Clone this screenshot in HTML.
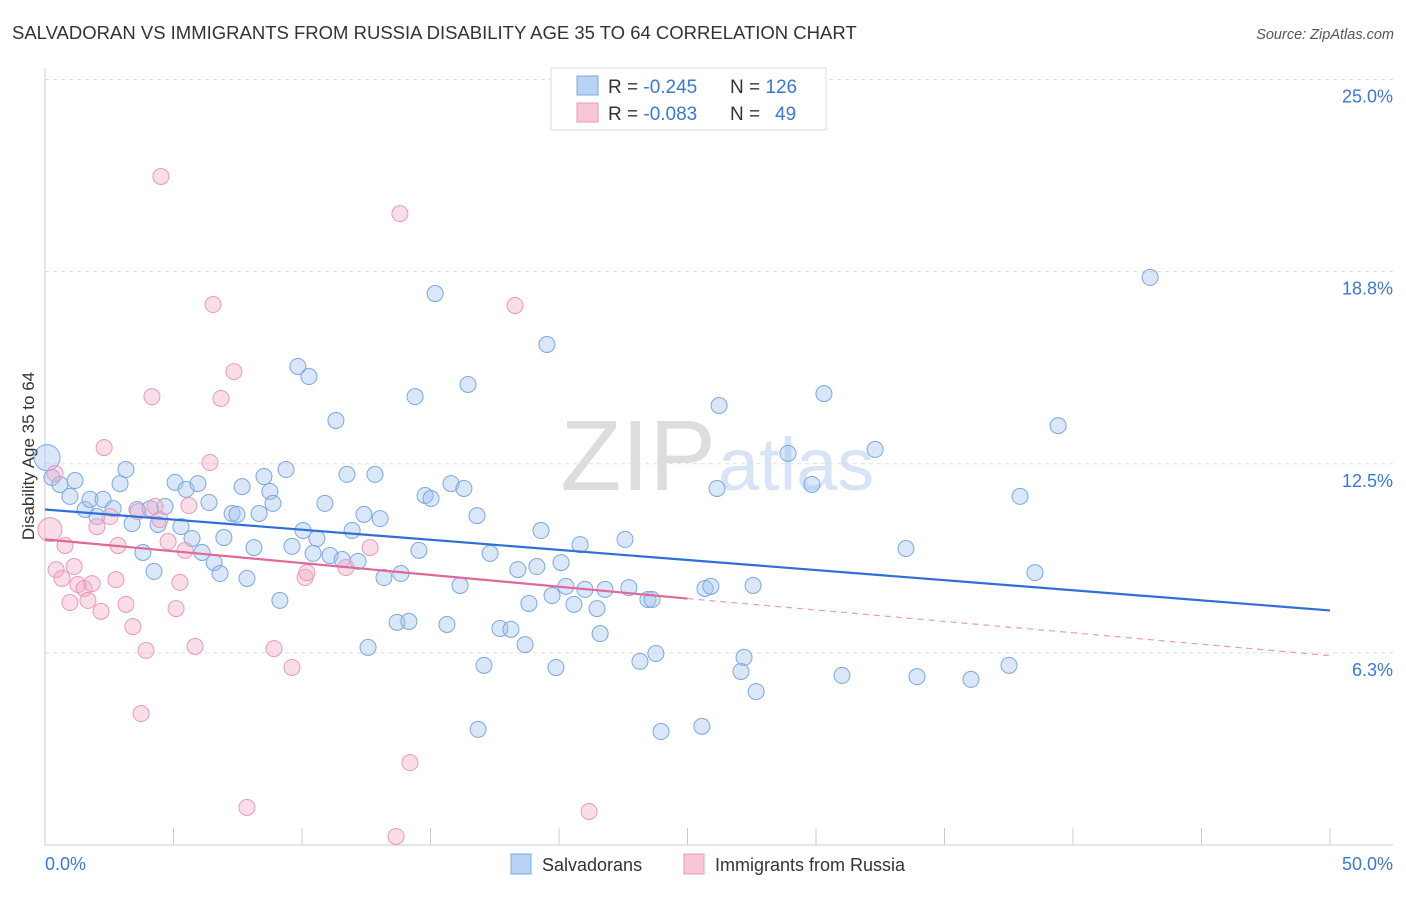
<!DOCTYPE html>
<html><head><meta charset="utf-8"><style>
body{margin:0;background:#fff;font-family:"Liberation Sans",sans-serif;}
svg text{font-family:"Liberation Sans",sans-serif;}
</style></head><body>
<svg id="chart" width="1406" height="892" viewBox="0 0 1406 892">
<text x="12" y="39" font-size="18.5" fill="#333">SALVADORAN VS IMMIGRANTS FROM RUSSIA DISABILITY AGE 35 TO 64 CORRELATION CHART</text>
<text x="1394" y="39" font-size="14.5" fill="#555" text-anchor="end" font-style="italic">Source: ZipAtlas.com</text>
<text x="716" y="490" font-size="100" fill="#ddd" text-anchor="end" font-family="Liberation Serif">ZIP</text>
<text x="718" y="490" font-size="74" fill="#d6e4f5">atlas</text>
<g id="grid"></g><g id="axes"></g><g id="pts"></g><g id="trends"></g>
<text transform="translate(34,456) rotate(-90)" font-size="17" fill="#333" text-anchor="middle">Disability Age 35 to 64</text>
<g>
<rect x="551" y="68" width="275" height="62" fill="#fff" stroke="#ddd"/>
<rect x="577" y="76" width="21" height="19" fill="#b8d3f5" stroke="#7aa8e0"/>
<rect x="577" y="103" width="21" height="19" fill="#f9c6d6" stroke="#e89ab8"/>
<text x="608" y="93" font-size="19" fill="#333">R = <tspan fill="#3a78d4">-0.245</tspan><tspan x="730">N = </tspan><tspan fill="#3a78d4">126</tspan></text>
<text x="608" y="120" font-size="19" fill="#333">R = <tspan fill="#3a78d4">-0.083</tspan><tspan x="730">N = </tspan><tspan fill="#3a78d4" x="775">49</tspan></text>
</g>
<g>
<rect x="511" y="854" width="20" height="20" fill="#b8d3f5" stroke="#7aa8e0"/>
<text x="542" y="871" font-size="18" fill="#333">Salvadorans</text>
<rect x="684" y="854" width="20" height="20" fill="#f9c6d6" stroke="#e89ab8"/>
<text x="715" y="871" font-size="18" fill="#333">Immigrants from Russia</text>
</g>
</svg>
<script>
const blueX=[0.08,0.27,0.58,1.17,0.97,1.56,1.75,2.02,2.26,2.65,2.92,3.15,3.39,3.58,3.81,4.09,4.24,4.40,4.67,5.06,5.29,5.49,5.72,5.95,6.11,6.38,6.58,6.81,6.96,7.28,7.47,7.67,7.86,8.13,8.33,8.52,8.75,8.87,9.14,9.38,9.61,9.84,10.04,10.27,10.43,10.58,10.89,11.09,11.32,11.56,11.75,11.95,12.18,12.41,12.57,12.84,13.04,13.19,13.70,13.85,14.16,14.40,14.55,14.79,15.02,15.18,15.64,15.80,16.15,16.30,16.46,16.81,17.08,16.85,17.32,17.70,18.13,18.40,18.68,18.83,19.14,19.30,19.53,19.73,19.88,20.08,20.27,20.58,20.82,21.01,21.48,21.60,21.79,22.57,22.72,23.15,23.46,23.62,23.77,23.97,25.56,25.68,25.91,26.15,26.23,27.08,27.20,27.55,27.67,28.91,29.84,30.31,31.01,32.30,33.50,33.93,36.03,37.51,37.94,38.52,39.42,43.00];
const blueY=[12.70,12.05,11.82,11.95,11.43,11.0,11.33,10.77,11.33,11.03,11.85,12.31,10.54,11.0,9.59,11.03,8.97,10.51,11.10,11.89,10.44,11.66,10.05,11.85,9.59,11.23,9.26,8.90,10.08,10.87,10.84,11.75,8.74,9.75,10.87,12.08,11.59,11.20,8.02,12.31,9.79,15.69,10.31,15.36,9.56,10.05,11.20,9.49,13.92,9.36,12.15,10.31,9.30,10.84,6.48,12.15,10.70,8.77,7.30,8.90,7.33,14.70,9.66,11.46,11.36,18.08,7.23,11.85,8.51,11.69,15.10,10.80,5.89,3.79,9.56,7.10,7.07,9.03,6.57,7.92,9.13,10.31,16.41,8.18,5.82,9.26,8.48,7.89,9.85,8.38,7.75,6.93,8.38,10.02,8.44,6.02,8.05,8.05,6.28,3.72,3.89,8.41,8.48,11.69,14.41,5.69,6.15,8.51,5.03,12.84,11.82,14.80,5.56,12.97,9.72,5.52,5.43,5.89,11.43,8.93,13.75,18.61];
const pinkX=[0.19,0.39,0.43,0.66,0.78,0.97,1.13,1.28,1.52,1.67,1.83,2.02,2.18,2.30,2.53,2.76,2.84,3.15,3.42,3.62,3.93,3.74,4.16,4.28,4.47,4.51,4.79,5.10,5.25,5.45,5.60,5.84,6.42,6.54,6.85,7.35,7.86,8.91,9.61,10.12,10.19,11.71,12.65,13.66,13.81,14.20,18.29,21.17];
const pinkY=[10.34,12.18,9.03,8.74,9.82,7.95,9.13,8.54,8.41,8.02,8.57,10.44,7.66,13.03,10.77,8.70,9.82,7.89,7.16,10.93,6.38,4.31,14.70,11.10,10.67,21.92,9.95,7.75,8.61,9.66,11.13,6.51,12.54,17.72,14.64,15.52,1.23,6.44,5.82,8.77,8.93,9.10,9.75,0.28,20.70,2.70,17.69,1.10];
const blueTrendX=[0,50], blueTrendY=[11.0,7.69];
const pinkTrendX=[0,25,50], pinkTrendY=[10.02,8.08,6.21];
const yTicks=[25.0,18.8,12.5,6.3], yTickLabels=["25.0%","18.8%","12.5%","6.3%"];
const xTickVals=[0,5,10,15,20,25,30,35,40,45,50];
const NS="http://www.w3.org/2000/svg";
const sx=v=>45+v*25.7, sy=v=>845-v*30.5;
function mk(p,t,a){const e=document.createElementNS(NS,t);for(const k in a)e.setAttribute(k,a[k]);document.getElementById(p).appendChild(e);return e;}
yTicks.forEach((v,i)=>{
 const gy=sy(v)-(i==0?3:0);
 const g=mk('grid','line',{x1:45,x2:1393,y1:gy,y2:gy,stroke:'#ddd','stroke-dasharray':'4,4'});
 
 
 const t=mk('grid','text',{x:1393,y:gy+23,'font-size':18,fill:'#3a78d4','text-anchor':'end'});t.textContent=yTickLabels[i];
 
 
});
let a=mk('axes','line',{x1:45,x2:45,y1:68,y2:845,stroke:'#ccc'});


a=mk('axes','line',{x1:45,x2:1393,y1:845,y2:845,stroke:'#ccc'});


xTickVals.forEach(v=>{const l=mk('axes','line',{x1:sx(v),x2:sx(v),y1:828,y2:845,stroke:'#ccc'});
 
 });
let t=mk('axes','text',{x:45,y:870,'font-size':18,fill:'#3a78d4'});t.textContent="0.0%";


t=mk('axes','text',{x:1393,y:870,'font-size':18,fill:'#3a78d4','text-anchor':'end'});t.textContent="50.0%";


blueX.forEach((x,i)=>{const c=mk('pts','circle',{cx:sx(x),cy:sy(blueY[i]),r:i==0?13:8,fill:'rgba(160,196,240,0.4)',stroke:'#7aa8e0','stroke-width':1});
 
 });
pinkX.forEach((x,i)=>{const c=mk('pts','circle',{cx:sx(x),cy:sy(pinkY[i]),r:i==0?12:8,fill:'rgba(244,170,200,0.4)',stroke:'#e89ab8','stroke-width':1});
 
 });
let l=mk('trends','line',{x1:sx(blueTrendX[0]),y1:sy(blueTrendY[0]),x2:sx(blueTrendX[1]),y2:sy(blueTrendY[1]),stroke:'#2f6fd6','stroke-width':2.2});


l=mk('trends','line',{x1:sx(pinkTrendX[0]),y1:sy(pinkTrendY[0]),x2:sx(pinkTrendX[1]),y2:sy(pinkTrendY[1]),stroke:'#e0689a','stroke-width':2.2});


l=mk('trends','line',{x1:sx(pinkTrendX[1]),y1:sy(pinkTrendY[1]),x2:sx(pinkTrendX[2]),y2:sy(pinkTrendY[2]),stroke:'#e89ab8','stroke-width':1.2,'stroke-dasharray':'6,5'});


</script>
</body></html>
